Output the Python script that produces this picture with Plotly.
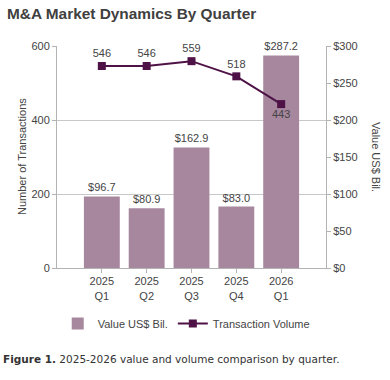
import plotly.graph_objects as go

quarters = ["2025<br>Q1", "2025<br>Q2", "2025<br>Q3", "2025<br>Q4", "2026<br>Q1"]
value_bil = [96.7, 80.9, 162.9, 83.0, 287.2]
volume = [546, 546, 559, 518, 443]
vol_text_pos = ["top center", "top center", "top center", "top center", "bottom center"]

xpos = list(range(len(quarters)))
FONT = "Liberation Sans"
TXT = "#444444"
AXC = "#b3b3b3"
BAR = "#a6879e"
LINE = "#4e1246"
FS = 11

fig = go.Figure()
fig.add_trace(go.Bar(
    x=xpos, y=value_bil, name="Value US$ Bil.",
    marker=dict(color=BAR, line=dict(width=0)),
    width=0.8,
    text=[f"${v:.1f}" for v in value_bil], textposition="outside",
    textfont=dict(size=FS, color=TXT, family=FONT),
    cliponaxis=False, yaxis="y",
))
fig.add_trace(go.Scatter(
    x=xpos, y=volume, name="Transaction Volume", mode="lines+markers+text",
    line=dict(color=LINE, width=2), marker=dict(symbol="square", size=8, color=LINE),
    text=[str(v) for v in volume], textposition=vol_text_pos,
    textfont=dict(size=FS, color=TXT, family=FONT),
    cliponaxis=False, yaxis="y2",
))

fig.update_layout(
    width=390, height=380,
    margin=dict(l=57, r=64, t=46, b=112, autoexpand=False),
    paper_bgcolor="white", plot_bgcolor="white",
    font=dict(family=FONT, color=TXT, size=FS),
    title=dict(text="<b>M&A Market Dynamics By Quarter</b>", x=0.018, xanchor="left",
               y=0.963, yanchor="middle", font=dict(size=15.4, color="#404040", family=FONT)),
    xaxis=dict(range=[-1, 5], tickvals=xpos, ticktext=quarters, showgrid=False,
               showline=True, linecolor=AXC, ticks="outside", tickcolor=AXC, ticklen=4,
               ticklabelstandoff=-1,
               tickfont=dict(size=FS, color=TXT), zeroline=False, automargin=False),
    yaxis=dict(side="right", range=[0, 300], dtick=50, tickprefix="$",
               showgrid=False, showline=True, linecolor=AXC, ticks="outside",
               tickcolor=AXC, ticklen=4, tickfont=dict(size=FS, color=TXT), zeroline=False,
               automargin=False),
    yaxis2=dict(side="left", overlaying="y", range=[0, 600], dtick=200,
                showgrid=True, gridcolor="#c8c8c8", gridwidth=1,
                showline=True, linecolor=AXC, ticks="outside", tickcolor=AXC, ticklen=4,
                tickfont=dict(size=FS, color=TXT), zeroline=False, automargin=False),
    legend=dict(orientation="h", xref="container", x=0.148, xanchor="left",
                yref="container", y=0.149, yanchor="middle",
                font=dict(size=FS, color=TXT), traceorder="normal"),
    showlegend=True,
)

fig.add_annotation(text="Number of Transactions", xref="paper", yref="paper", x=0.0,
                   xanchor="center", xshift=-35, y=0.5, yanchor="middle", textangle=-90,
                   showarrow=False, font=dict(size=FS, color=TXT, family=FONT))
fig.add_annotation(text="Value US$ Bil.", xref="paper", yref="paper", x=1.0, xanchor="center",
                   xshift=50, y=0.5, yanchor="middle", textangle=90, showarrow=False,
                   font=dict(size=FS, color=TXT, family=FONT))
fig.add_annotation(text="<b>Figure 1.</b> 2025-2026 value and volume comparison by quarter.",
                   xref="paper", yref="paper", x=0, xanchor="left", xshift=-56,
                   y=-0.41, yanchor="middle", showarrow=False,
                   font=dict(size=10.5, color="#333333", family="DejaVu Sans"))

fig.write_html("out.html", post_script="document.body.style.margin='0px';",
               config={"displayModeBar": False})
